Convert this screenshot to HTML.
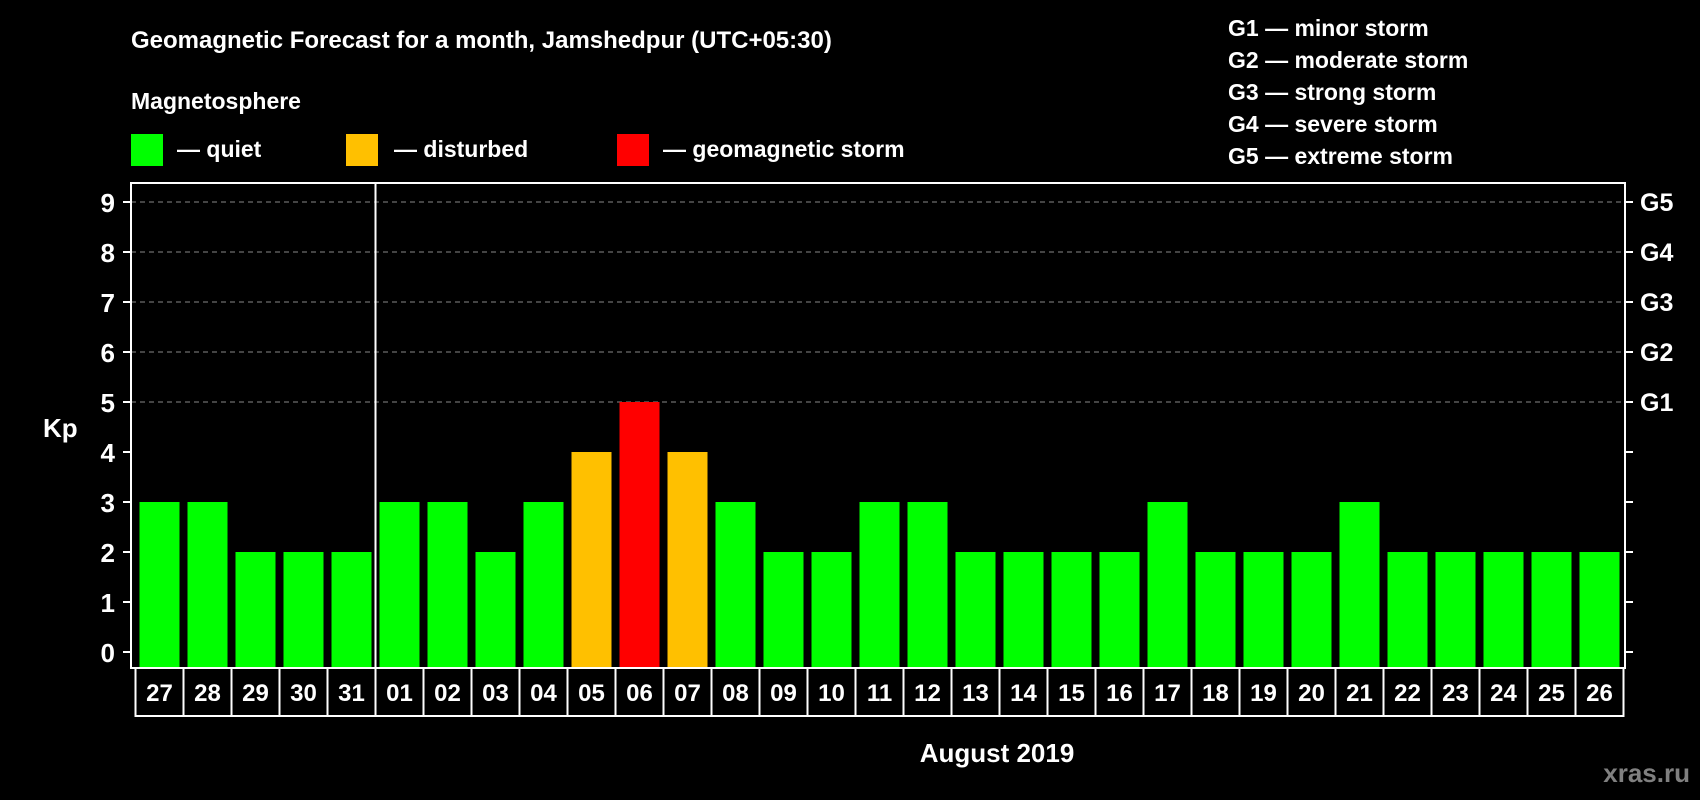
<!DOCTYPE html>
<html><head><meta charset="utf-8"><style>
html,body{margin:0;padding:0;background:#000;}
svg{display:block;font-family:"Liberation Sans",Arial,sans-serif;font-weight:bold;}
</style></head><body>
<svg id="chart" width="1700" height="800" viewBox="0 0 1700 800">
<text x="131" y="48" fill="#fff" font-size="24">Geomagnetic Forecast for a month, Jamshedpur (UTC+05:30)</text>
<text x="131" y="109" fill="#fff" font-size="23">Magnetosphere</text>
<g><rect x="131" y="134" width="32" height="32" fill="#00ff00"/><text x="177" y="157" fill="#fff" font-size="23">— quiet</text></g>
<g><rect x="346" y="134" width="32" height="32" fill="#ffc000"/><text x="394" y="157" fill="#fff" font-size="23">— disturbed</text></g>
<g><rect x="617" y="134" width="32" height="32" fill="#ff0000"/><text x="663" y="157" fill="#fff" font-size="23">— geomagnetic storm</text></g>
<g fill="#fff" font-size="23">
<text x="1228" y="36">G1 — minor storm</text>
<text x="1228" y="68">G2 — moderate storm</text>
<text x="1228" y="100">G3 — strong storm</text>
<text x="1228" y="132">G4 — severe storm</text>
<text x="1228" y="164">G5 — extreme storm</text>
</g>
<text x="43" y="437" fill="#fff" font-size="26">Kp</text>
<text x="997" y="762" fill="#fff" font-size="26" text-anchor="middle">August 2019</text>
<text x="1690" y="782" fill="#808080" font-size="26" text-anchor="end">xras.ru</text>
<g id="plot"></g>
</svg>
<script>
const days=["27","28","29","30","31","01","02","03","04","05","06","07","08","09","10","11","12","13","14","15","16","17","18","19","20","21","22","23","24","25","26"];
const kp=[3,3,2,2,2,3,3,2,3,4,5,4,3,2,2,3,3,2,2,2,2,3,2,2,2,3,2,2,2,2,2];
const yTicks=[0,1,2,3,4,5,6,7,8,9];
const gLabels=["G1","G2","G3","G4","G5"];
const NS="http://www.w3.org/2000/svg";
const g=document.getElementById('plot');
const L=131,R=1625,T=183,B=668,cellL=135.5,cellW=48;
const y=v=>652-50*v;
const x=i=>cellL+i*cellW;
function mk(t,a){const e=document.createElementNS(NS,t);for(const k in a)e.setAttribute(k,a[k]);g.appendChild(e);return e;}
yTicks.forEach(v=>{
  if(v>=5){const l=mk('line',{x1:L,x2:R,y1:y(v),y2:y(v),stroke:'#888','stroke-dasharray':'5,4','stroke-width':1});
  
  }
  const t1=mk('line',{x1:L-8,x2:L,y1:y(v),y2:y(v),stroke:'#fff','stroke-width':2});
  
  
  const t2=mk('line',{x1:R,x2:R+8,y1:y(v),y2:y(v),stroke:'#fff','stroke-width':2});
  
  
  const tx=mk('text',{x:115,y:y(v)+10,fill:'#fff','font-size':26,'text-anchor':'end'});tx.textContent=v;
  
  
});
gLabels.forEach((s,i)=>{
  const tx=mk('text',{x:1640,y:y(5+i)+9,fill:'#fff','font-size':25});tx.textContent=s;
  
  
});
kp.forEach((v,i)=>{
  const c=v>=5?'#ff0000':(v>=4?'#ffc000':'#00ff00');
  const r=mk('rect',{x:x(i)+4,y:y(v),width:cellW-8,height:B-y(v),fill:c});
  
  
  const b=mk('rect',{x:x(i),y:B,width:cellW,height:48,fill:'none',stroke:'#fff','stroke-width':2});
  
  
  const tx=mk('text',{x:x(i)+cellW/2,y:B+33,fill:'#fff','font-size':24,'text-anchor':'middle'});tx.textContent=days[i];
  
  
});
const fr=mk('rect',{x:L,y:T,width:R-L,height:B-T,fill:'none',stroke:'#fff','stroke-width':2});


const dv=mk('line',{x1:x(5),x2:x(5),y1:T,y2:B,stroke:'#fff','stroke-width':2});


</script>
</body></html>
